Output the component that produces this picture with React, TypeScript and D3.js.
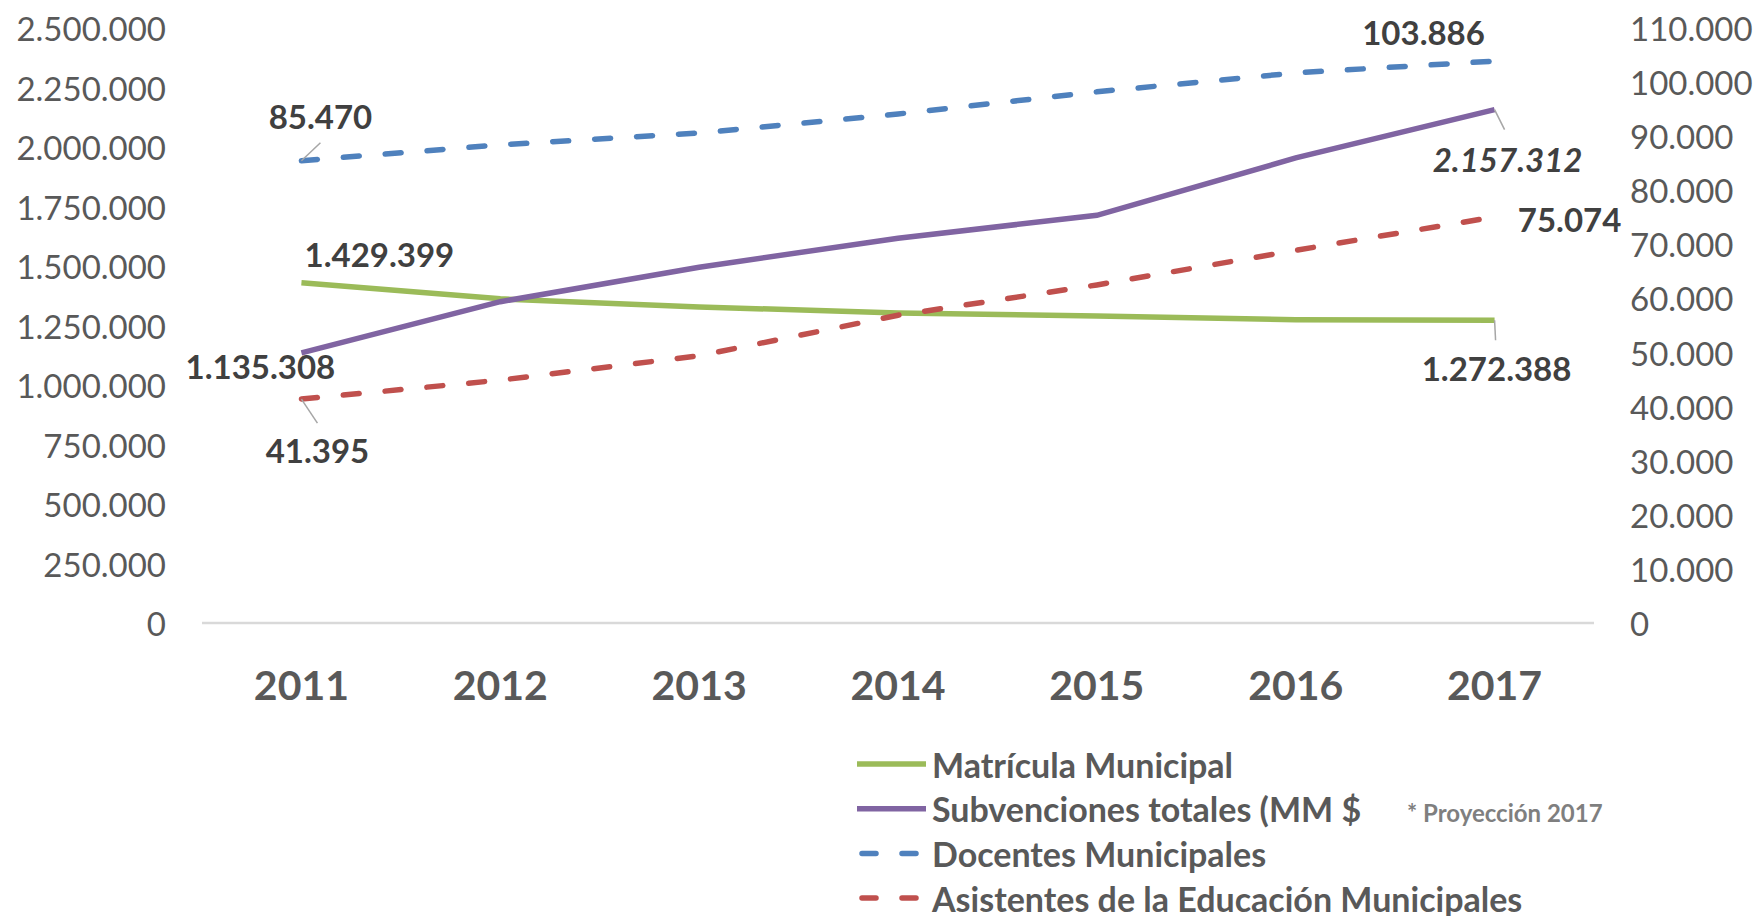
// @ts-nocheck
import React from 'react';
import * as d3 from 'd3';

const years = ['2011', '2012', '2013', '2014', '2015', '2016', '2017'];
const matricula = [1429399, 1362000, 1328000, 1303000, 1290000, 1274000, 1272388];
const subvenciones = [1135308, 1350000, 1495000, 1617000, 1713000, 1954000, 2157312];
const docentes = [85470, 88400, 90600, 94100, 98200, 101700, 103886];
const asistentes = [41395, 44900, 49400, 56900, 62500, 68900, 75074];
const leftTicks = [0, 250000, 500000, 750000, 1000000, 1250000, 1500000, 1750000, 2000000, 2250000, 2500000];
const rightTicks = [0, 10000, 20000, 30000, 40000, 50000, 60000, 70000, 80000, 90000, 100000, 110000];

const FONT = 'Lato, "Open Sans", sans-serif';
const fmt = (v: number) => d3.format(',')(v).replace(/,/g, '.');

export default function App() {
  const W = 1756, H = 916;
  const top = 28, bottom = 623, left = 202, right = 1594;

  const x = d3.scaleBand().domain(years).range([left, right]);
  const cx = (y: string) => x(y) + x.bandwidth() / 2;
  const yL = d3.scaleLinear().domain([0, 2500000]).range([bottom, top]);
  const yR = d3.scaleLinear().domain([0, 110000]).range([bottom, top]);

  const lineL = d3.line<number>().x((_, i) => cx(years[i])).y(d => yL(d));
  const lineR = d3.line<number>().x((_, i) => cx(years[i])).y(d => yR(d));

  const series = [
    { name: 'Matrícula Municipal', d: lineL(matricula), color: '#9BBB59', dash: null },
    { name: 'Subvenciones totales (MM $', d: lineL(subvenciones), color: '#8064A2', dash: null },
    { name: 'Docentes Municipales', d: lineR(docentes), color: '#4F81BD', dash: '16 26' },
    { name: 'Asistentes de la Educación Municipales', d: lineR(asistentes), color: '#C0504D', dash: '16 26' },
  ];

  const first = years[0], last = years[years.length - 1];
  const n = years.length - 1;
  const labels = [
    { text: fmt(docentes[0]), x: cx(first) + 19, y: yR(docentes[0]) - 45, lead: [cx(first), yR(docentes[0]), cx(first) + 19, yR(docentes[0]) - 18] },
    { text: fmt(matricula[0]), x: cx(first) + 78, y: yL(matricula[0]) - 29 },
    { text: fmt(subvenciones[0]), x: cx(first) - 41, y: yL(subvenciones[0]) + 13 },
    { text: fmt(asistentes[0]), x: cx(first) + 16, y: yR(asistentes[0]) + 51, lead: [cx(first), yR(asistentes[0]), cx(first) + 16, yR(asistentes[0]) + 24] },
    { text: fmt(docentes[n]), x: cx(last) - 71, y: yR(docentes[n]) - 29 },
    { text: fmt(subvenciones[n]), x: cx(last) + 13, y: yL(subvenciones[n]) + 49, italic: true, lead: [cx(last), yL(subvenciones[n]), cx(last) + 10, yL(subvenciones[n]) + 20] },
    { text: fmt(asistentes[n]), x: cx(last) + 75, y: yR(asistentes[n]) + 2 },
    { text: fmt(matricula[n]), x: cx(last) + 2, y: yL(matricula[n]) + 48, lead: [cx(last), yL(matricula[n]), cx(last) + 1, yL(matricula[n]) + 20] },
  ];

  return (
    <svg width={W} height={H} style={{ position: 'absolute', left: 0, top: 0, background: '#fff' }} fontFamily={FONT}>
      <line x1={left} x2={right} y1={bottom} y2={bottom} stroke="#D9D9D9" strokeWidth={2.5} />

      {leftTicks.map(t => (
        <text key={'l' + t} x={166} y={yL(t)} textAnchor="end" dominantBaseline="central" fontSize={33} fill="#595959">{fmt(t)}</text>
      ))}
      {rightTicks.map(t => (
        <text key={'r' + t} x={1630} y={yR(t)} textAnchor="start" dominantBaseline="central" fontSize={33} fill="#595959">{fmt(t)}</text>
      ))}
      {years.map(yr => (
        <text key={yr} x={cx(yr)} y={684} textAnchor="middle" dominantBaseline="central" fontSize={41} fontWeight="bold" fill="#595959">{yr}</text>
      ))}

      {series.map(s => (
        <path key={s.name} d={s.d} fill="none" stroke={s.color} strokeWidth={5.5} strokeLinecap={s.dash ? 'round' : 'butt'} strokeDasharray={s.dash || undefined} />
      ))}

      {labels.map(l => (
        <g key={l.text}>
          {l.lead && <line x1={l.lead[0]} y1={l.lead[1]} x2={l.lead[2]} y2={l.lead[3]} stroke="#A6A6A6" strokeWidth={1.5} />}
          <text x={l.x} y={l.y} textAnchor="middle" dominantBaseline="central" fontSize={33} fontWeight="bold" fontStyle={l.italic ? 'italic' : 'normal'} fill="#404040">{l.text}</text>
        </g>
      ))}

      {series.map((s, i) => {
        const ly = 764 + i * 44.7;
        return (
          <g key={'lg' + s.name}>
            {s.dash
              ? <line x1={862} x2={924} y1={ly} y2={ly} stroke={s.color} strokeWidth={5.5} strokeLinecap="round" strokeDasharray="14 26" />
              : <line x1={857} x2={926} y1={ly} y2={ly} stroke={s.color} strokeWidth={5.5} />}
            <text x={932} y={ly} dominantBaseline="central" fontSize={34} fontWeight="bold" fill="#595959">{s.name}</text>
          </g>
        );
      })}
      <text x={1407} y={812} dominantBaseline="central" fontSize={24} fontWeight="bold" fill="#7F7F7F">* Proyección 2017</text>
    </svg>
  );
}
